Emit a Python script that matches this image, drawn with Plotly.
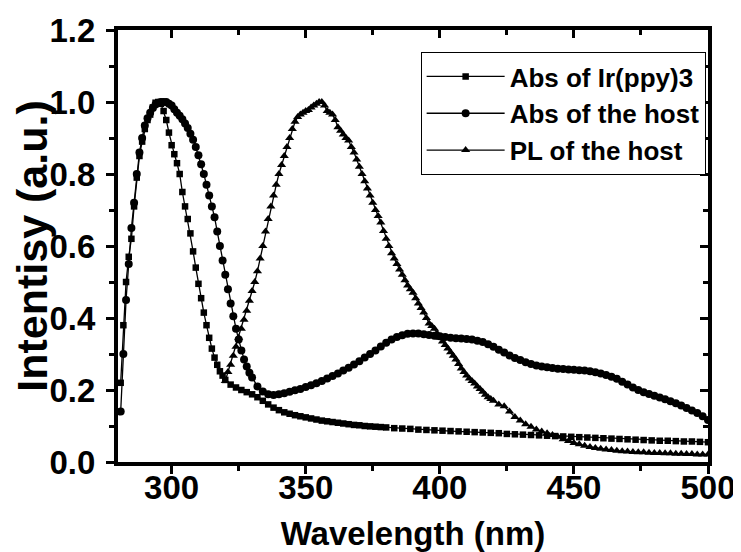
import plotly.graph_objects as go

# ---- data ----
ir_x = [281, 282, 283, 284, 285, 286, 287, 288, 289, 290, 291, 292, 293, 294, 295, 296, 297, 298, 299, 300,
        301, 302, 303, 304, 305, 306, 307, 308, 309, 310, 311, 312, 313, 314, 315, 316, 317, 318, 319, 320,
        322, 324, 326, 328, 330, 332, 334, 336, 338, 340, 342, 344, 346, 348, 350, 352, 354, 356, 358, 360,
        362, 364, 366, 368, 370, 372, 374, 376, 378, 380, 383, 386, 389, 392, 395, 398, 401, 404, 407, 410,
        413, 416, 419, 422, 425, 428, 431, 434, 437, 440, 443, 446, 449, 452, 455, 458, 461, 464, 467, 470,
        473, 476, 479, 482, 485, 488, 491, 494, 497, 500]
ir_y = [0.22, 0.38, 0.50, 0.57, 0.62, 0.71, 0.79, 0.85, 0.89, 0.925, 0.95, 0.965, 0.985, 0.998, 1.0, 0.995, 0.975, 0.95, 0.915, 0.88,
        0.855, 0.83, 0.80, 0.75, 0.71, 0.675, 0.635, 0.585, 0.54, 0.495, 0.455, 0.415, 0.38, 0.345, 0.315, 0.29, 0.27, 0.252, 0.24, 0.228,
        0.215, 0.207, 0.2, 0.194, 0.188, 0.18, 0.17, 0.16, 0.151, 0.144, 0.138, 0.134, 0.13, 0.127, 0.124, 0.121, 0.118, 0.115, 0.113, 0.111,
        0.109, 0.107, 0.105, 0.103, 0.102, 0.1, 0.099, 0.098, 0.097, 0.096, 0.094, 0.093, 0.092, 0.09, 0.089, 0.088, 0.087, 0.086, 0.085, 0.084,
        0.083, 0.082, 0.081, 0.08, 0.078, 0.077, 0.076, 0.075, 0.074, 0.073, 0.072, 0.071, 0.07, 0.069, 0.068, 0.067, 0.066, 0.065, 0.064, 0.063,
        0.062, 0.061, 0.06, 0.059, 0.059, 0.058, 0.057, 0.057, 0.056, 0.055]

host_x = [281, 282, 283, 284, 285, 286, 287, 288, 289, 290, 291, 292, 293, 294, 295, 296, 297, 298, 299, 300,
          301, 302, 303, 304, 305, 306, 307, 308, 309, 310, 311, 312, 313, 314, 315, 316, 317, 318, 319, 320,
          321, 322, 323, 324, 325, 326, 327, 328, 329, 330, 332, 334, 336, 338, 340, 342, 344, 346, 348, 350,
          352, 354, 356, 358, 360, 362, 364, 366, 368, 370, 372, 374, 376, 378, 380, 382, 384, 386, 388, 390,
          392, 394, 396, 398, 400, 402, 404, 406, 408, 410, 412, 414, 416, 418, 420, 422, 424, 426, 428, 430,
          432, 434, 436, 438, 440, 442, 444, 446, 448, 450, 452, 454, 456, 458, 460, 462, 464, 466, 468, 470,
          472, 474, 476, 478, 480, 482, 484, 486, 488, 490, 492, 494, 496, 498, 500]
host_y = [0.14, 0.30, 0.45, 0.55, 0.65, 0.72, 0.80, 0.86, 0.90, 0.935, 0.955, 0.97, 0.983, 0.993, 0.998, 1.0, 1.0, 1.0, 0.995, 0.99,
          0.98, 0.97, 0.962, 0.952, 0.94, 0.928, 0.912, 0.895, 0.875, 0.852, 0.827, 0.8, 0.77, 0.74, 0.71, 0.68, 0.64, 0.6, 0.56, 0.52,
          0.48, 0.44, 0.405, 0.37, 0.34, 0.31, 0.285, 0.265, 0.248, 0.235, 0.21, 0.196, 0.188, 0.186, 0.188, 0.191, 0.195, 0.199, 0.203, 0.208,
          0.213, 0.219, 0.225, 0.232, 0.239, 0.246, 0.254, 0.262, 0.271, 0.28, 0.29, 0.3, 0.31, 0.321, 0.331, 0.34, 0.347, 0.352, 0.356, 0.357,
          0.357, 0.355, 0.353, 0.351, 0.349, 0.347, 0.345, 0.344, 0.343, 0.342, 0.34, 0.337, 0.333, 0.327, 0.32, 0.312, 0.304, 0.296, 0.289, 0.283,
          0.277, 0.272, 0.268, 0.265, 0.263, 0.261, 0.259, 0.258, 0.257, 0.256, 0.255, 0.254, 0.252, 0.249, 0.246, 0.242, 0.237, 0.231, 0.223, 0.215,
          0.207, 0.2, 0.194, 0.189, 0.184, 0.179, 0.174, 0.169, 0.163, 0.157, 0.15, 0.143, 0.136, 0.127, 0.117]

pl_x = [320, 321, 322, 323, 324, 325, 326, 327, 328, 329, 330, 331, 332, 333, 334, 335, 336, 337, 338, 339,
        340, 341, 342, 343, 344, 345, 346, 347, 348, 349, 350, 351, 352, 353, 354, 355, 356, 357, 358, 359,
        360, 361, 362, 363, 364, 365, 366, 367, 368, 369, 370, 371, 372, 373, 374, 375, 376, 377, 378, 379,
        380, 381, 382, 383, 384, 385, 386, 387, 388, 389, 390, 391, 392, 393, 394, 395, 396, 397, 398, 399,
        400, 401, 402, 403, 404, 405, 406, 407, 408, 409, 410, 411, 412, 413, 414, 415, 416, 417, 418, 419,
        420, 422, 424, 426, 428, 430, 432, 434, 436, 438, 440, 442, 444, 446, 448, 450, 452, 454, 456, 458,
        460, 462, 464, 466, 468, 470, 472, 474, 476, 478, 480, 482, 484, 486, 488, 490, 492, 494, 496, 498, 500]
pl_y = [0.225, 0.25, 0.27, 0.295, 0.32, 0.345, 0.37, 0.395, 0.42, 0.448, 0.475, 0.5, 0.53, 0.565, 0.6, 0.64, 0.675, 0.71, 0.74, 0.77,
        0.8, 0.825, 0.85, 0.875, 0.9, 0.925, 0.945, 0.958, 0.965, 0.97, 0.975, 0.978, 0.985, 0.99, 0.995, 1.0, 1.0, 0.99, 0.975, 0.97,
        0.965, 0.95, 0.93, 0.92, 0.91, 0.9, 0.893, 0.875, 0.86, 0.84, 0.82, 0.8, 0.78, 0.76, 0.74, 0.72, 0.7, 0.683, 0.665, 0.642,
        0.62, 0.6, 0.58, 0.565, 0.55, 0.535, 0.52, 0.505, 0.49, 0.48, 0.47, 0.455, 0.44, 0.428, 0.415, 0.4, 0.385, 0.378, 0.37, 0.357,
        0.345, 0.335, 0.325, 0.315, 0.305, 0.295, 0.285, 0.272, 0.26, 0.25, 0.24, 0.232, 0.225, 0.218, 0.21, 0.203, 0.195, 0.187, 0.18, 0.175,
        0.17, 0.16, 0.155, 0.14, 0.125, 0.115, 0.105, 0.098, 0.09, 0.085, 0.08, 0.075, 0.07, 0.063, 0.058, 0.053, 0.049, 0.045, 0.042, 0.039,
        0.037, 0.035, 0.033, 0.031, 0.03, 0.029, 0.028, 0.027, 0.027, 0.026, 0.025, 0.025, 0.024, 0.024, 0.023, 0.023, 0.022, 0.022, 0.021, 0.021, 0.021]

series_names = ["Abs of Ir(ppy)3", "Abs of the host", "PL of the host"]
x_ticks = [300, 350, 400, 450, 500]
y_ticks = [0.0, 0.2, 0.4, 0.6, 0.8, 1.0, 1.2]
x_range = [280, 500]
y_range = [0, 1.2]

FONT = "Liberation Sans, Arial, sans-serif"

fig = go.Figure()
fig.add_trace(go.Scatter(x=ir_x, y=ir_y, name=series_names[0], mode="lines+markers",
                         line=dict(color="black", width=1.3),
                         marker=dict(symbol="square", size=6.5, color="black")))
fig.add_trace(go.Scatter(x=host_x, y=host_y, name=series_names[1], mode="lines+markers",
                         line=dict(color="black", width=1.3),
                         marker=dict(symbol="circle", size=8, color="black")))
fig.add_trace(go.Scatter(x=pl_x, y=pl_y, name=series_names[2], mode="lines+markers",
                         line=dict(color="black", width=1.3),
                         marker=dict(symbol="triangle-up", size=8, color="black")))
# empty trace so the mirrored top / right frame axes get drawn
fig.add_trace(go.Scatter(x=[], y=[], xaxis="x2", yaxis="y2", showlegend=False, hoverinfo="skip"))

axis_common = dict(showgrid=False, zeroline=False, showline=True, linecolor="black", linewidth=4,
                   ticklen=8, tickwidth=3, tickcolor="black", automargin=False)

fig.update_layout(
    width=733, height=544,
    margin=dict(l=110, r=33, t=22, b=90, autoexpand=False),
    paper_bgcolor="white", plot_bgcolor="white",
    font=dict(family=FONT, color="black", weight="bold"),
    showlegend=True,
    legend=dict(x=0.996, xanchor="right", y=0.949, yanchor="top",
                bordercolor="black", borderwidth=1, bgcolor="white",
                font=dict(family=FONT, size=26, color="black", weight="bold"),
                itemwidth=78, tracegroupgap=0),
    xaxis=dict(range=x_range, tickvals=x_ticks, ticktext=[str(v) for v in x_ticks], ticks="outside",
               ticklabelstandoff=-15,
               tickfont=dict(family=FONT, size=33, color="black", weight="bold"),
               minor=dict(dtick=25, tick0=275, ticks="outside", ticklen=5, tickwidth=3, tickcolor="black"),
               title=dict(text="Wavelength (nm)", standoff=19,
                          font=dict(family=FONT, size=33, color="black", weight="bold")),
               **axis_common),
    yaxis=dict(range=y_range, tickvals=y_ticks, ticktext=[f"{v:.1f}" for v in y_ticks], ticks="outside",
               ticklabelstandoff=4,
               tickfont=dict(family=FONT, size=33, color="black", weight="bold"),
               minor=dict(dtick=0.1, tick0=0, ticks="outside", ticklen=5, tickwidth=3, tickcolor="black"),
               title=dict(text="Intentisy (a.u.)", standoff=2,
                          font=dict(family=FONT, size=43, color="black", weight="bold")),
               **axis_common),
    xaxis2=dict(overlaying="x", side="top", anchor="y2", range=x_range, tickvals=x_ticks,
                showticklabels=False, ticks="inside",
                minor=dict(dtick=25, tick0=275, ticks="inside", ticklen=5, tickwidth=3, tickcolor="black"),
                **axis_common),
    yaxis2=dict(overlaying="y", side="right", anchor="x2", range=y_range, tickvals=y_ticks,
                showticklabels=False, ticks="inside",
                minor=dict(dtick=0.1, tick0=0, ticks="inside", ticklen=5, tickwidth=3, tickcolor="black"),
                **axis_common),
)

fig.write_html("out.html")
